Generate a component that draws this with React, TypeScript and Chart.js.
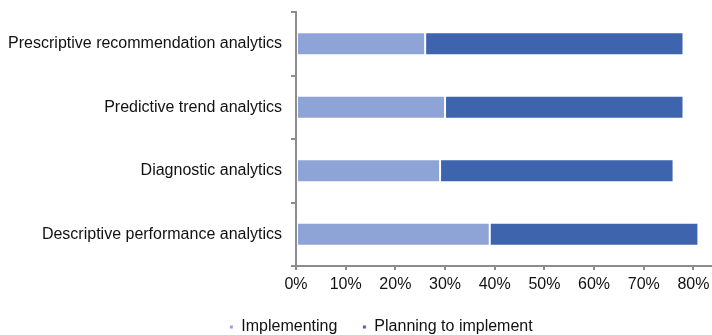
import React, { useEffect, useRef } from "react";
import { Chart, registerables } from "chart.js";

Chart.register(...registerables);

const categories = [
  "Prescriptive recommendation analytics",
  "Predictive trend analytics",
  "Diagnostic analytics",
  "Descriptive performance analytics",
];
const implementing = [26, 30, 29, 39];
const planning = [52, 48, 47, 42];
const tickValues = [0, 10, 20, 30, 40, 50, 60, 70, 80, 90];

const FONT = "'Liberation Sans', Arial, sans-serif";

export default function App() {
  const ref = useRef<HTMLCanvasElement>(null);
  useEffect(() => {
    if (!ref.current) return;
    const chart = new Chart(ref.current, {
      type: "bar",
      data: {
        labels: categories,
        datasets: [
          {
            label: "Implementing",
            data: implementing,
            backgroundColor: "#8FA4D6",
            borderColor: "#ffffff",
            borderWidth: 1,
            borderSkipped: false,
            barPercentage: 0.36,
            categoryPercentage: 1,
          },
          {
            label: "Planning to implement",
            data: planning,
            backgroundColor: "#3D64AD",
            borderColor: "#ffffff",
            borderWidth: 1,
            borderSkipped: false,
            barPercentage: 0.36,
            categoryPercentage: 1,
          },
        ],
      },
      options: {
        indexAxis: "y",
        animation: false,
        responsive: false,
        layout: { padding: { top: 12, right: 0, left: 0, bottom: -10 } },
        scales: {
          x: {
            stacked: true,
            min: 0,
            max: 93.8,
            afterBuildTicks: (axis: any) => {
              axis.ticks = tickValues.map((v) => ({ value: v }));
            },
            afterFit: (s: any) => {
              s.height = 28;
              s.paddingLeft = 0;
              s.paddingRight = 0;
            },
            border: { display: true, color: "#8c8c8c", width: 2 },
            grid: {
              drawOnChartArea: false,
              drawTicks: true,
              tickLength: 4,
              color: "#8c8c8c",
              lineWidth: 2,
            },
            ticks: {
              color: "#111",
              font: { family: FONT, size: 16 },
              padding: 5,
              maxRotation: 0,
              autoSkip: false,
              callback: (v: any) => v + "%",
            },
          },
          y: {
            stacked: true,
            afterFit: (s: any) => {
              s.width = 296;
              s.paddingTop = 0;
              s.paddingBottom = 0;
            },
            border: { display: true, color: "#8c8c8c", width: 2 },
            grid: {
              offset: true,
              drawOnChartArea: false,
              drawTicks: true,
              tickLength: 5,
              color: "#8c8c8c",
              lineWidth: 2,
            },
            ticks: {
              color: "#111",
              font: { family: FONT, size: 16 },
              padding: 9,
            },
          },
        },
        plugins: {
          legend: {
            position: "bottom",
            labels: {
              usePointStyle: true,
              pointStyle: "rect",
              boxWidth: 4,
              boxHeight: 4,
              color: "#111",
              font: { family: FONT, size: 16 },
              padding: 25,
            },
          },
          tooltip: { enabled: false },
        },
      },
    });
    return () => chart.destroy();
  }, []);
  return (
    <div
      style={{
        position: "absolute",
        left: 0,
        top: 0,
        width: 712,
        height: 335,
        overflow: "hidden",
        background: "#fff",
      }}
    >
      <canvas ref={ref} width={762} height={335} style={{ display: "block" }} />
    </div>
  );
}
